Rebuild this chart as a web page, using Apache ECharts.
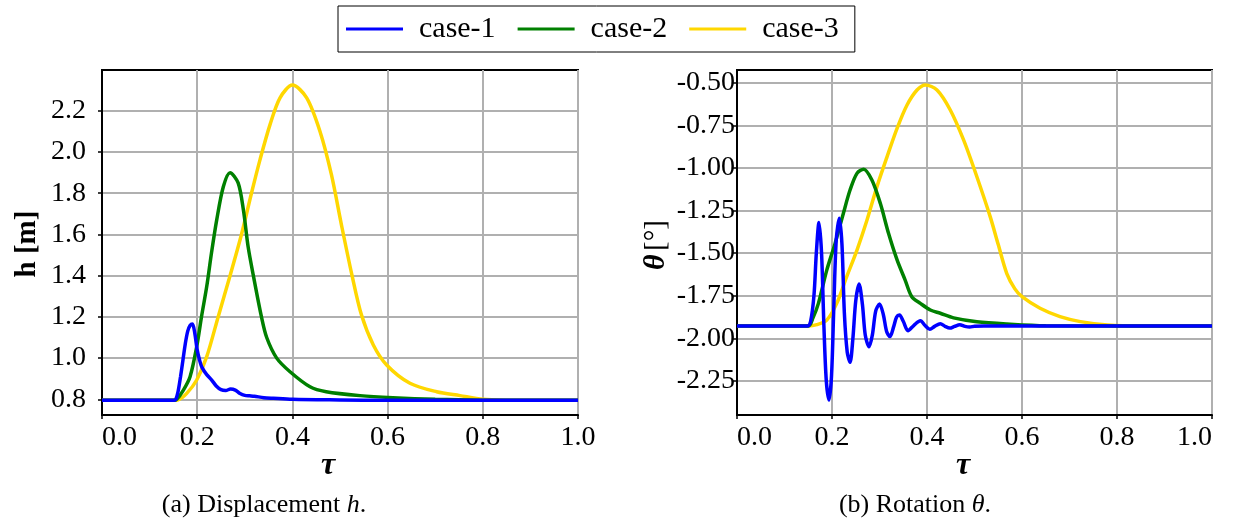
<!DOCTYPE html>
<html>
<head>
<meta charset="utf-8">
<script src="https://cdn.jsdelivr.net/npm/echarts@6/dist/echarts.min.js"></script>
<style>
  html, body { margin: 0; padding: 0; background: #fff; }
  #main { width: 1236px; height: 523px; }
</style>
</head>
<body>
<div id="main"></div>
<script>
// --- data ---
const caseNames = ['case-1', 'case-2', 'case-3'];

// (a) displacement h [m]
const tauH1 = [0, 0.10, 0.150, 0.155, 0.160, 0.165, 0.170, 0.175, 0.180, 0.185, 0.190, 0.195, 0.200, 0.205, 0.210, 0.220, 0.230, 0.240, 0.250, 0.260, 0.270, 0.280, 0.290, 0.300, 0.310, 0.320, 0.340, 0.360, 0.400, 0.500, 0.600, 1.0];
const h1    = [0.795, 0.795, 0.795, 0.800, 0.840, 0.910, 0.990, 1.070, 1.130, 1.158, 1.165, 1.120, 1.040, 0.990, 0.955, 0.920, 0.895, 0.865, 0.847, 0.843, 0.850, 0.845, 0.828, 0.819, 0.817, 0.815, 0.808, 0.805, 0.800, 0.797, 0.795, 0.795];

const tauH2 = [0, 0.150, 0.157, 0.171, 0.185, 0.199, 0.209, 0.220, 0.230, 0.241, 0.255, 0.269, 0.286, 0.297, 0.307, 0.318, 0.335, 0.346, 0.367, 0.395, 0.437, 0.471, 0.542, 0.611, 0.700, 0.800, 1.0];
const h2    = [0.795, 0.795, 0.800, 0.845, 0.910, 1.056, 1.200, 1.347, 1.510, 1.671, 1.833, 1.900, 1.850, 1.720, 1.540, 1.400, 1.200, 1.100, 1.000, 0.934, 0.861, 0.837, 0.818, 0.808, 0.800, 0.796, 0.795];

const tauH3 = [0, 0.150, 0.160, 0.178, 0.199, 0.220, 0.244, 0.269, 0.293, 0.314, 0.332, 0.353, 0.374, 0.400, 0.430, 0.458, 0.482, 0.503, 0.525, 0.545, 0.570, 0.598, 0.647, 0.703, 0.752, 0.800, 0.850, 1.0];
const h3    = [0.795, 0.795, 0.797, 0.829, 0.894, 1.007, 1.200, 1.400, 1.600, 1.800, 1.963, 2.133, 2.263, 2.325, 2.263, 2.100, 1.890, 1.647, 1.404, 1.210, 1.064, 0.967, 0.878, 0.837, 0.818, 0.800, 0.796, 0.795];

// (b) rotation theta [deg]
const tauT1 = [0, 0.100, 0.148, 0.155, 0.162, 0.167, 0.1726, 0.178, 0.183, 0.188, 0.1937, 0.199, 0.204, 0.209, 0.2155, 0.221, 0.226, 0.232, 0.238, 0.244, 0.250, 0.257, 0.264, 0.270, 0.278, 0.285, 0.292, 0.300, 0.308, 0.315, 0.322, 0.330, 0.336, 0.342, 0.350, 0.360, 0.372, 0.386, 0.396, 0.406, 0.416, 0.428, 0.438, 0.448, 0.458, 0.469, 0.480, 0.490, 0.500, 0.520, 1.0];
const th1   = [-1.928, -1.928, -1.928, -1.900, -1.750, -1.500, -1.320, -1.500, -1.930, -2.250, -2.362, -2.220, -1.800, -1.420, -1.296, -1.450, -1.850, -2.080, -2.141, -2.000, -1.780, -1.681, -1.800, -1.980, -2.049, -1.980, -1.840, -1.799, -1.860, -1.960, -1.990, -1.930, -1.875, -1.863, -1.900, -1.955, -1.925, -1.897, -1.925, -1.947, -1.930, -1.914, -1.930, -1.940, -1.930, -1.920, -1.930, -1.934, -1.929, -1.928, -1.928];

const tauT2 = [0, 0.150, 0.160, 0.1714, 0.189, 0.2065, 0.224, 0.238, 0.2526, 0.2666, 0.284, 0.3017, 0.319, 0.337, 0.354, 0.368, 0.386, 0.407, 0.428, 0.456, 0.505, 0.568, 0.650, 1.0];
const th2   = [-1.928, -1.928, -1.880, -1.795, -1.600, -1.443, -1.266, -1.130, -1.032, -1.008, -1.071, -1.208, -1.384, -1.540, -1.658, -1.756, -1.795, -1.834, -1.853, -1.880, -1.903, -1.916, -1.926, -1.928];

const tauT3 = [0, 0.150, 0.168, 0.189, 0.210, 0.231, 0.2526, 0.2737, 0.2947, 0.316, 0.337, 0.358, 0.379, 0.3965, 0.421, 0.449, 0.477, 0.505, 0.533, 0.550, 0.568, 0.585, 0.600, 0.638, 0.680, 0.723, 0.780, 0.850, 1.0];
const th3   = [-1.928, -1.928, -1.920, -1.893, -1.795, -1.638, -1.482, -1.306, -1.110, -0.934, -0.768, -0.631, -0.543, -0.513, -0.543, -0.660, -0.836, -1.052, -1.286, -1.450, -1.620, -1.710, -1.756, -1.824, -1.873, -1.902, -1.922, -1.928, -1.928];

const hTicks = [0.8, 1.0, 1.2, 1.4, 1.6, 1.8, 2.0, 2.2];
const thetaTicks = [-2.25, -2.0, -1.75, -1.5, -1.25, -1.0, -0.75, -0.5];

const colors = ['#0000ff', '#008000', '#ffd700'];
const font = 'Liberation Serif';

function pairs(xs, ys) {
  return xs.map((x, i) => [x, ys[i]]);
}

let myChart = echarts.init(document.getElementById('main'));

const gridLine = { show: true, lineStyle: { color: '#b0b0b0', width: 2 } };
const axLine = { show: true, lineStyle: { color: '#000', width: 2 } };
const axTick = { show: true, length: 4, lineStyle: { color: '#000', width: 1.5 } };

function xAxisFor(idx, alignMax) {
  return {
    type: 'value', gridIndex: idx, min: 0, max: 1, interval: 0.2,
    axisLine: axLine, axisTick: axTick, splitLine: gridLine,
    axisLabel: {
      fontFamily: font, fontSize: 28, color: '#000', margin: 9,
      alignMinLabel: 'left', alignMaxLabel: alignMax,
      formatter: v => v.toFixed(1)
    }
  };
}

function line(k, data, xi) {
  return {
    name: caseNames[k], type: 'line', xAxisIndex: xi, yAxisIndex: xi,
    data: data, smooth: 0.3, symbol: 'none', z: 5 - k,
    itemStyle: { color: colors[k] },
    lineStyle: { width: 3.5, color: colors[k] }
  };
}

myChart.setOption({
  animation: false,
  color: colors,
  legend: {
    data: caseNames,
    icon: 'rect',
    left: 338, top: 6,
    padding: [8, 16, 8, 8],
    itemGap: 22, itemWidth: 57, itemHeight: 3,
    borderColor: '#000', borderWidth: 1, borderRadius: 0,
    textStyle: { fontFamily: font, fontSize: 30, color: '#000', padding: [0, 0, 0, 11] }
  },
  grid: [
    { left: 102, top: 70, width: 476, height: 345, show: true, borderColor: '#000', borderWidth: 2, backgroundColor: 'transparent' },
    { left: 737, top: 70, width: 475, height: 345, show: true, borderColor: '#000', borderWidth: 2, backgroundColor: 'transparent' }
  ],
  xAxis: [xAxisFor(0, 'center'), xAxisFor(1, 'right')],
  yAxis: [
    {
      type: 'value', gridIndex: 0, min: 0.724, max: 2.398,
      axisLine: axLine,
      axisTick: Object.assign({ customValues: hTicks }, axTick),
      splitLine: gridLine,
      axisLabel: {
        customValues: hTicks, fontFamily: font, fontSize: 28, color: '#000', margin: 16,
        formatter: v => v.toFixed(1)
      }
    },
    {
      type: 'value', gridIndex: 1, min: -2.45, max: -0.4255,
      axisLine: axLine,
      axisTick: Object.assign({ customValues: thetaTicks }, axTick),
      splitLine: gridLine,
      axisLabel: {
        customValues: thetaTicks, fontFamily: font, fontSize: 28, color: '#000', margin: 2,
        formatter: v => v.toFixed(2)
      }
    }
  ],
  graphic: [
    { type: 'text', x: 28, y: 244, rotation: Math.PI / 2, z: 10,
      style: { text: 'h [m]', fontFamily: font, fontSize: 29, fontWeight: 'bold', fill: '#000', align: 'center', verticalAlign: 'middle' } },
    { type: 'text', x: 328, y: 466, z: 10,
      style: { text: 'τ', fontFamily: font, fontSize: 32, fontWeight: 'bold', fontStyle: 'italic', fill: '#000', align: 'center', verticalAlign: 'middle' } },
    { type: 'text', x: 963, y: 466, z: 10,
      style: { text: 'τ', fontFamily: font, fontSize: 32, fontWeight: 'bold', fontStyle: 'italic', fill: '#000', align: 'center', verticalAlign: 'middle' } },
    { type: 'text', x: 656, y: 245, rotation: Math.PI / 2, z: 10,
      style: {
        text: '{t|θ} {u|[°]}', align: 'center', verticalAlign: 'middle',
        rich: {
          t: { fontFamily: font, fontSize: 30, fontWeight: 'bold', fontStyle: 'italic', fill: '#000' },
          u: { fontFamily: font, fontSize: 29, fill: '#000' }
        }
      } },
    { type: 'text', x: 264, y: 505, z: 10,
      style: {
        text: '{n|(a) Displacement }{i|h}{n|.}', align: 'center', verticalAlign: 'middle',
        rich: {
          n: { fontFamily: font, fontSize: 26, fill: '#000' },
          i: { fontFamily: font, fontSize: 26, fontStyle: 'italic', fill: '#000' }
        }
      } },
    { type: 'text', x: 915, y: 505, z: 10,
      style: {
        text: '{n|(b) Rotation }{i|θ}{n|.}', align: 'center', verticalAlign: 'middle',
        rich: {
          n: { fontFamily: font, fontSize: 26, fill: '#000' },
          i: { fontFamily: font, fontSize: 26, fontStyle: 'italic', fill: '#000' }
        }
      } }
  ],
  series: [
    line(2, pairs(tauH3, h3), 0),
    line(1, pairs(tauH2, h2), 0),
    line(0, pairs(tauH1, h1), 0),
    line(2, pairs(tauT3, th3), 1),
    line(1, pairs(tauT2, th2), 1),
    line(0, pairs(tauT1, th1), 1)
  ]
});
</script>
</body>
</html>
